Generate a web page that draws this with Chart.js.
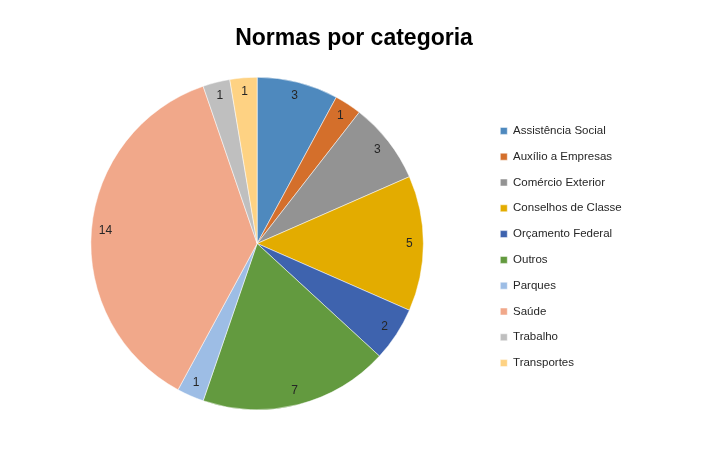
<!DOCTYPE html>
<html>
<head>
<meta charset="utf-8">
<script src="https://cdn.jsdelivr.net/npm/chart.js@4"></script>
<style>
  html, body { margin: 0; padding: 0; background: #fff; }
  #wrap { width: 726px; height: 449px; }
</style>
</head>
<body>
<div id="wrap"><canvas id="chart"></canvas></div>
<script>
const categories = [
  'Assistência Social', 'Auxílio a Empresas', 'Comércio Exterior', 'Conselhos de Classe',
  'Orçamento Federal', 'Outros', 'Parques', 'Saúde', 'Trabalho', 'Transportes'
];
const counts = [3, 1, 3, 5, 2, 7, 1, 14, 1, 1];
const sliceColors = [
  '#4E89BE', '#D46F2B', '#939393', '#E3AC00', '#3E63AE',
  '#639A3F', '#9DBDE5', '#F1A88A', '#BFBFBF', '#FED283'
];

// draws the value of each slice just inside the outer edge
const sliceLabels = {
  id: 'sliceLabels',
  afterDatasetsDraw(chart) {
    const ctx = chart.ctx;
    const meta = chart.getDatasetMeta(0);
    ctx.save();
    ctx.font = '12px "Liberation Sans", Arial, sans-serif';
    ctx.fillStyle = '#262626';
    ctx.textAlign = 'center';
    ctx.textBaseline = 'middle';
    meta.data.forEach((arc, i) => {
      const p = arc.getProps(['x', 'y', 'startAngle', 'endAngle', 'outerRadius'], true);
      const mid = (p.startAngle + p.endAngle) / 2;
      const r = p.outerRadius - 14;
      ctx.fillText(String(counts[i]), p.x + Math.cos(mid) * r, p.y + Math.sin(mid) * r);
    });
    ctx.restore();
  }
};

// pie sits left of centre, so move the title and legend after layout
const nudge = {
  id: 'nudge',
  afterLayout(chart) {
    const t = chart.titleBlock;
    const titleDx = 354 - (t.left + t.right) / 2;
    t.left += titleDx;
    t.right += titleDx;
    const lg = chart.legend;
    const legendDx = 486 - lg.left;
    lg.left += legendDx;
    lg.right += legendDx;
    lg.top += 42;
    lg.bottom += 42;
  }
};

new Chart(document.getElementById('chart'), {
  type: 'pie',
  data: {
    labels: categories,
    datasets: [{
      data: counts,
      backgroundColor: sliceColors,
      borderColor: '#ffffff',
      borderWidth: 0.5
    }]
  },
  options: {
    responsive: true,
    maintainAspectRatio: false,
    animation: false,
    layout: { padding: { top: 0, bottom: 39, left: 89, right: 155 } },
    plugins: {
      title: {
        display: true,
        text: 'Normas por categoria',
        color: '#000000',
        font: { family: '"Liberation Sans", Arial, sans-serif', size: 23, weight: 'bold' },
        padding: { top: 25, bottom: 24.4 }
      },
      legend: {
        position: 'right',
        labels: {
          boxWidth: 7,
          boxHeight: 7,
          padding: 14.3,
          color: '#262626',
          font: { family: '"Liberation Sans", Arial, sans-serif', size: 11.5 }
        }
      },
      tooltip: { enabled: false }
    }
  },
  plugins: [sliceLabels, nudge]
});
</script>
</body>
</html>
